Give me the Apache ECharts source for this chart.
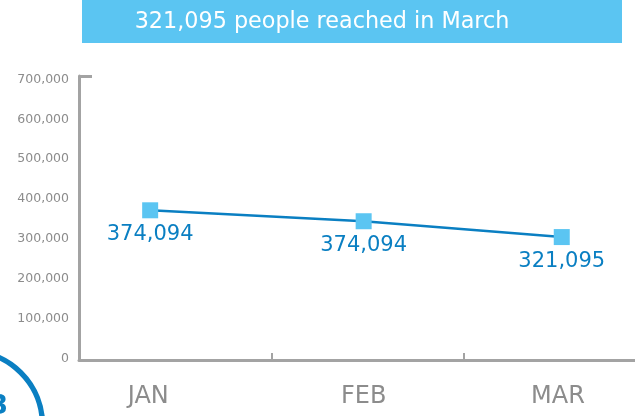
<!DOCTYPE html>
<html>
<head>
<meta charset="utf-8">
<style>html,body{margin:0;padding:0;background:#fff}#main{width:635px;height:416px}</style>
<script src="https://cdn.jsdelivr.net/npm/echarts@6/dist/echarts.min.js"></script>
</head>
<body>
<div id="main"></div>
<script>
var months = ['JAN', 'FEB', 'MAR'];
// the points do not sit evenly in the month bands, so x is read off the picture in band units
var monthPos = [0.37, 1.48, 2.51];
var monthLabelPos = [0.36, 1.48, 2.49];
var reach = [369000, 342000, 303000];
var reachLabels = ['374,094', '374,094', '321,095'];
var yTicks = [0, 100000, 200000, 300000, 400000, 500000, 600000, 700000];
var headline = '321,095 people reached in March';

var GREY = '#a3a3a3', BLUE = '#0a7fc2', SKY = '#5bc5f2';

var myChart = echarts.init(document.getElementById('main'));
myChart.setOption({
  animation: false,
  backgroundColor: '#fff',
  grid: [
    {left: 79, top: 76, width: 577, height: 284, outerBoundsMode: 'none'},
    // tick labels sit a little off the ticks in the original, so they get their own grid
    {left: 79, top: 79.5, width: 577, height: 279, outerBoundsMode: 'none'}
  ],
  xAxis: [{
    type: 'value', min: 0, max: 3, interval: 1,
    splitLine: {show: false},
    axisLine: {lineStyle: {color: GREY, width: 3}},
    axisTick: {inside: true, length: 7, lineStyle: {color: GREY, width: 2}},
    axisLabel: {
      margin: 25, color: '#8c8c8c', fontFamily: 'DejaVu Sans', fontSize: 24,
      customValues: monthLabelPos,
      formatter: function (v) { return months[monthLabelPos.indexOf(v)]; }
    }
  }, {
    gridIndex: 1, type: 'value', min: 0, max: 3, show: false
  }],
  yAxis: [{
    type: 'value', min: 0, max: 700000, interval: 100000,
    splitLine: {show: false},
    axisLine: {show: true, lineStyle: {color: GREY, width: 3}},
    axisTick: {show: true, inside: true, length: 13, customValues: [0, 700000], lineStyle: {color: GREY, width: 3}},
    axisLabel: {show: false}
  }, {
    gridIndex: 1, type: 'value', min: 0, max: 700000, interval: 100000,
    splitLine: {show: false},
    axisLine: {show: false},
    axisTick: {show: false},
    axisLabel: {
      margin: 10, color: '#8c8c8c', fontFamily: 'DejaVu Sans', fontSize: 12.5,
      customValues: yTicks,
      formatter: function (v) { return v.toLocaleString('en-US'); }
    }
  }],
  series: [{
    type: 'line',
    data: reach.map(function (v, i) { return [monthPos[i], v]; }),
    symbol: 'rect', symbolSize: 16,
    itemStyle: {color: SKY},
    lineStyle: {color: BLUE, width: 2.5},
    label: {
      show: true, position: 'bottom', distance: 6,
      color: BLUE, fontFamily: 'DejaVu Sans', fontSize: 21,
      formatter: function (p) { return reachLabels[p.dataIndex]; }
    }
  }],
  graphic: [
    {type: 'rect', shape: {x: 82, y: 0, width: 540, height: 43}, style: {fill: SKY}},
    {type: 'text', x: 322, y: 22, style: {text: headline, fill: '#fff', font: '22.3px "DejaVu Sans"', align: 'center', verticalAlign: 'middle'}},
    {type: 'circle', shape: {cx: -31.5, cy: 425, r: 74}, style: {fill: 'none', stroke: BLUE, lineWidth: 5.5}},
    {type: 'text', x: 8, y: 407, style: {text: '3', fill: BLUE, font: 'bold 26px "DejaVu Sans"', align: 'right', verticalAlign: 'middle'}}
  ]
});
</script>
</body>
</html>
